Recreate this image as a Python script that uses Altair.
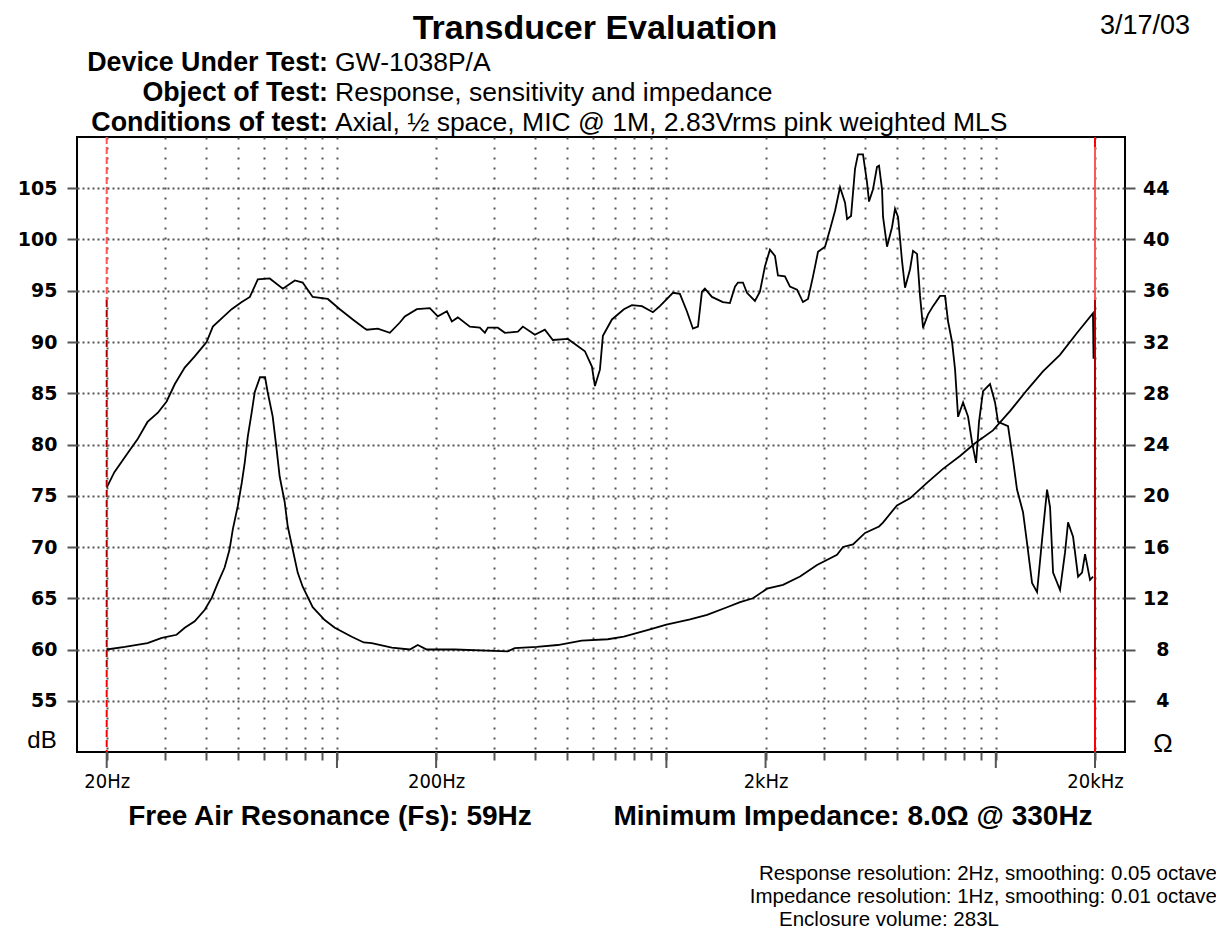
import altair as alt
import pandas as pd

# ---------------- data ----------------
resp_freq = [20, 21.1, 23.2, 24.8, 26.6, 28.6, 30.4, 32.2, 34.5, 37.0,
             40.2, 42.0, 45.0, 47.9, 51.4, 54.4, 57.5, 62.5, 68.5, 74.5,
             78.7, 84.4, 93.8, 102, 111.7, 120.6, 123.2, 133, 144.7, 155.2,
             160.7, 174.8, 191.4, 202.4, 215.6, 223.2, 232.8, 253.2, 271.4, 281.2,
             287.2, 307.8, 323.4, 354.2, 366.8, 398.8, 427.6, 452.2, 502.2, 527.4,
             565.8, 594.2, 606.8, 628.4, 641.6, 683.4, 743, 785.8, 842.8, 910,
             955.6, 1046.8, 1099, 1154, 1204, 1247, 1282, 1309, 1375, 1484,
             1559, 1615, 1649, 1708, 1756, 1857, 1923, 1992, 2062, 2136,
             2181, 2290, 2372, 2492, 2598, 2691, 2787, 2886, 3031, 3139,
             3251, 3366, 3486, 3536, 3636, 3738, 3817, 3952, 4064, 4122,
             4239, 4359, 4421, 4515, 4547, 4675, 4841, 4944, 5049, 5192,
             5302, 5491, 5607, 5766, 5888, 6013, 6227, 6448, 6773, 7014,
             7163, 7366, 7522, 7682, 7955, 8238, 8471, 8711, 8893, 9146,
             9604, 9946, 10157, 10892, 11279, 11598, 12095, 12438, 12883, 13342,
             13815, 14307, 14610, 14922, 15668, 16226, 16569, 17160, 17770, 18273,
             18660, 19323, 19734]
resp_db = [75.8, 77.3, 79.2, 80.5, 82.2, 83.1, 84.2, 85.9, 87.5, 88.6,
           90.0, 91.5, 92.4, 93.2, 93.9, 94.4, 96.1, 96.2, 95.2, 96.0,
           95.8, 94.4, 94.2, 93.2, 92.2, 91.4, 91.2, 91.3, 90.9, 91.9,
           92.5, 93.2, 93.3, 92.5, 93.0, 92.0, 92.4, 91.5, 91.4, 90.9,
           91.4, 91.4, 90.9, 91.0, 91.5, 90.7, 91.2, 90.2, 90.3, 89.8,
           89.1, 87.6, 85.7, 87.3, 90.6, 92.2, 93.2, 93.6, 93.5, 92.9,
           93.5, 94.8, 94.7, 93.0, 91.3, 91.5, 94.9, 95.2, 94.4, 93.9,
           93.8, 95.4, 95.8, 95.8, 94.8, 94.0, 94.9, 97.4, 99.0, 98.4,
           96.5, 96.4, 95.4, 95.1, 93.9, 94.2, 96.4, 98.8, 99.3, 101.0,
           102.8, 105.1, 103.6, 102.0, 102.3, 106.9, 108.3, 108.3, 105.6, 103.7,
           104.9, 107.1, 107.2, 104.9, 102.2, 99.3, 101.2, 103.0, 102.2, 97.9,
           95.3, 97.1, 98.9, 98.6, 94.5, 91.4, 92.7, 93.5, 94.5, 94.5,
           92.0, 90.0, 87.3, 82.7, 84.1, 82.7, 80.2, 78.2, 82.2, 85.2,
           85.9, 84.1, 82.2, 81.8, 78.5, 75.6, 73.4, 70.4, 66.5, 65.6,
           70.7, 75.6, 73.9, 67.5, 65.8, 69.5, 72.4, 71.0, 67.1, 67.5,
           69.3, 66.8, 67.1]

imp_freq = [20, 22.7, 26.6, 29.4, 32.6, 34.5, 37.0, 39.7, 41.7, 43.5,
            45.6, 47.2, 48.3, 50.0, 51.4, 52.5, 53.6, 55.1, 56.3, 58.4,
            60.5, 61.6, 63.8, 65.6, 67.0, 69.4, 70.9, 73.4, 76.0, 78.7,
            84.4, 91.8, 98.5, 110.9, 120.6, 127.5, 146.7, 166.4, 175.9, 187.3,
            227.9, 300, 330, 346.4, 404.2, 467.9, 553.4, 663.9, 742.4, 870,
            1000, 1180, 1329, 1528, 1674, 1832, 2021, 2260, 2545, 2866,
            3296, 3437, 3686, 4009, 4421, 4544, 5011, 5488, 6180, 6912,
            7786, 8646, 9802, 11042, 12435, 13903, 15658, 17632, 19722, 19800]
imp_ohm = [8.0, 8.2, 8.5, 8.9, 9.15, 9.7, 10.2, 11.1, 12.05, 13.2,
           14.4, 15.8, 17.4, 19.2, 21.0, 22.6, 24.6, 26.5, 28.1, 29.25,
           29.25, 28.1, 26.2, 23.6, 21.5, 19.5, 17.6, 15.8, 14.0, 12.9,
           11.3, 10.3, 9.7, 9.0, 8.55, 8.5, 8.15, 8.0, 8.35, 8.0,
           8.0, 7.9, 7.85, 8.1, 8.2, 8.35, 8.7, 8.8, 9.0, 9.5,
           9.95, 10.35, 10.7, 11.3, 11.7, 12.0, 12.75, 13.05, 13.7, 14.6,
           15.4, 16.0, 16.2, 17.1, 17.6, 17.9, 19.25, 19.8, 21.0, 22.1,
           23.1, 24.1, 25.1, 26.6, 28.25, 29.7, 31.0, 32.7, 34.25, 30.7]

minor_ticks = [20, 30, 40, 50, 60, 70, 80, 90, 100,
               200, 300, 400, 500, 600, 700, 800, 900, 1000,
               2000, 3000, 4000, 5000, 6000, 7000, 8000, 9000, 10000, 20000]
major_ticks = [20, 100, 200, 1000, 2000, 10000, 20000]
db_ticks = [55, 60, 65, 70, 75, 80, 85, 90, 95, 100, 105]
ohm_ticks = [4, 8, 12, 16, 20, 24, 28, 32, 36, 40, 44]
marker_freqs = [20, 20000]

# ---------------- chart ----------------
W, H = 1048, 615
GRAY = "#555555"
SANS = "Liberation Sans, Arial, sans-serif"
NARROW = "Liberation Sans Narrow, DejaVu Sans Condensed, Arial Narrow, sans-serif"

xscale = alt.Scale(type="log", domain=[16.25, 24670], nice=False)

x_label_expr = ("datum.value == 20 ? '20Hz' : datum.value == 200 ? '200Hz' : "
                "datum.value == 2000 ? '2kHz' : datum.value == 20000 ? '20kHz' : ''")

xaxis = alt.Axis(
    values=minor_ticks, labelExpr=x_label_expr, title=None, domain=False,
    tickSize=8, tickWidth=2, tickColor=GRAY,
    grid=True, gridDash=[2, 8], gridColor=GRAY, gridWidth=2,
    labelFont=NARROW, labelFontSize=20, labelColor="black",
    labelPadding=11, labelOverlap=False, labelFlush=False, labelBound=False)


def xenc():
    return alt.X("freq:Q", scale=xscale, axis=xaxis)


resp_df = pd.DataFrame({"freq": resp_freq, "db": resp_db})
imp_df = pd.DataFrame({"freq": imp_freq, "ohm": imp_ohm})

resp = alt.Chart(resp_df).mark_line(color="black", strokeWidth=1.8).encode(
    x=xenc(),
    y=alt.Y("db:Q", scale=alt.Scale(domain=[50, 110], nice=False, zero=False), axis=alt.Axis(
        orient="left", values=db_ticks, title=None, domain=False,
        tickSize=10, tickWidth=2, tickColor=GRAY,
        grid=True, gridDash=[2, 3], gridColor=GRAY, gridWidth=2,
        labelFont="DejaVu Sans", labelFontWeight="bold", labelFontSize=19,
        labelColor="black", labelPadding=10)),
)

imp = alt.Chart(imp_df).mark_line(color="black", strokeWidth=1.8).encode(
    x=xenc(),
    y=alt.Y("ohm:Q", scale=alt.Scale(domain=[0, 48], nice=False, zero=False), axis=alt.Axis(
        orient="right", values=ohm_ticks, title=None, domain=False, grid=False,
        tickSize=10, tickWidth=2, tickColor=GRAY,
        labelFont="DejaVu Sans", labelFontWeight="bold", labelFontSize=19,
        labelColor="black", labelAlign="right", labelPadding=34)),
)

major = alt.Chart(pd.DataFrame({"freq": major_ticks})).mark_rule(
    color=GRAY, strokeWidth=2).encode(
    x=xenc(), y=alt.value(H), y2=alt.value(H + 16))


def red_seg(freq, y1, y2, color, dash=None):
    kw = dict(color=color, strokeWidth=2)
    if dash:
        kw["strokeDash"] = dash
    return alt.Chart(pd.DataFrame({"freq": [freq]})).mark_rule(**kw).encode(
        x=xenc(), y=alt.value(y1), y2=alt.value(y2))


LIGHT, DARK, PURE = "#ff5555", "#b00000", "#ff0000"
reds = [
    red_seg(marker_freqs[0], 0, 163, LIGHT, [7, 3]),
    red_seg(marker_freqs[0], 163, 533, DARK, [7, 3]),
    red_seg(marker_freqs[0], 533, H, PURE, [7, 3]),
    red_seg(marker_freqs[1], 0, 10, PURE),
    red_seg(marker_freqs[1], 10, 163, LIGHT),
    red_seg(marker_freqs[1], 163, 533, DARK),
    red_seg(marker_freqs[1], 533, H, PURE),
]


def txt(s, x, y, size, bold=False, align="left", font=SANS):
    return alt.Chart(pd.DataFrame({"t": [s]})).mark_text(
        font=font, fontSize=size, fontWeight="bold" if bold else "normal",
        align=align, baseline="alphabetic", color="black").encode(
        x=alt.value(x), y=alt.value(y), text="t:N")


texts = [
    txt("Transducer Evaluation", 518, -98.2, 34, True, "center"),
    txt("3/17/03", 1113, -103, 27, False, "right"),
    txt("Device Under Test:", 251, -66.5, 26.8, True, "right"),
    txt("GW-1038P/A", 258, -66.5, 26.5),
    txt("Object of Test:", 251, -36.5, 26.8, True, "right"),
    txt("Response, sensitivity and impedance", 258, -36.5, 26.5),
    txt("Conditions of test:", 251, -6.5, 26.8, True, "right"),
    txt("Axial, \u00bd space, MIC @ 1M, 2.83Vrms pink weighted MLS", 258, -6.5, 26.5),
    txt("dB", -35, 611, 24, False, "center"),
    txt("\u03a9", 1086, 615, 26, False, "center"),
    txt("Free Air Resonance (Fs): 59Hz", 253, 688, 28, True, "center"),
    txt("Minimum Impedance: 8.0\u03a9 @ 330Hz", 776, 688, 28, True, "center"),
    txt("Response resolution: 2Hz, smoothing: 0.05 octave", 1140, 743, 20.5, False, "right"),
    txt("Impedance resolution: 1Hz, smoothing: 0.01 octave", 1140, 766, 20.5, False, "right"),
    txt("Enclosure volume: 283L", 702, 789, 20.5, False, "left"),
]

chart = alt.layer(resp, imp, major, *reds, *texts).resolve_scale(
    y="independent"
).properties(
    width=W, height=H,
    padding={"left": 69, "top": 129, "right": 91, "bottom": 178},
    autosize=alt.AutoSizeParams(type="none"),
    background="white",
).configure_view(stroke="black", strokeWidth=2)

chart.save("out.html", embed_options={"renderer": "svg", "actions": False})
